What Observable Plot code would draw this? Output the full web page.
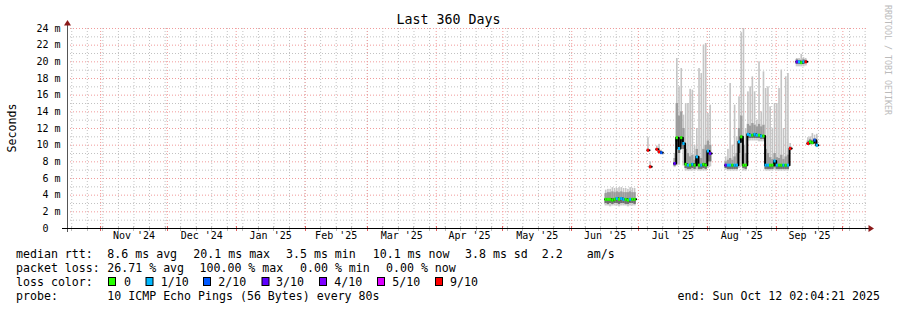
<!DOCTYPE html>
<html><head><meta charset="utf-8">
<script src="https://cdn.jsdelivr.net/npm/d3@7"></script>
<script src="https://cdn.jsdelivr.net/npm/@observablehq/plot@0.6"></script>
<style>
html,body{margin:0;padding:0;background:#fff;}
#chart{width:897px;height:310px;overflow:hidden;}
svg{display:block;}
</style></head><body><div id="chart"></div>
<script>
// ---- time window ----
const startTime = "2024-10-17T02:04:21Z";
const endTime = "2025-10-12T02:04:21Z";

// ---- daily samples (median rtt in ms, lost pings out of 10, smoke bounds in ms) ----
const days = [
 "2025-06-16","2025-06-17","2025-06-18","2025-06-19","2025-06-20","2025-06-21","2025-06-22","2025-06-23","2025-06-24","2025-06-25","2025-06-26","2025-06-27","2025-06-28","2025-06-29",
 "2025-07-05","2025-07-06","2025-07-09","2025-07-10","2025-07-11",
 "2025-07-17","2025-07-18","2025-07-19","2025-07-20","2025-07-21","2025-07-22","2025-07-23","2025-07-24","2025-07-25","2025-07-26","2025-07-27","2025-07-28","2025-07-29","2025-07-30","2025-07-31","2025-08-01","2025-08-02",
 "2025-08-09","2025-08-10","2025-08-11","2025-08-12","2025-08-13","2025-08-14","2025-08-15","2025-08-16","2025-08-17","2025-08-18","2025-08-19","2025-08-20","2025-08-21","2025-08-22","2025-08-23","2025-08-24","2025-08-25","2025-08-26","2025-08-27","2025-08-28","2025-08-29","2025-08-30","2025-08-31","2025-09-01","2025-09-02","2025-09-03","2025-09-04","2025-09-05","2025-09-06","2025-09-07",
 "2025-09-10","2025-09-11","2025-09-12","2025-09-13","2025-09-14",
 "2025-09-15","2025-09-16","2025-09-17","2025-09-18","2025-09-19"
];
const segment = [
 1,1,1,1,1,1,1,1,1,1,1,1,1,1,
 2,3,4,5,5,
 6,6,6,6,6,6,6,6,6,6,6,6,6,6,6,6,6,
 7,7,7,7,7,7,7,7,7,7,7,7,7,7,7,7,7,7,7,7,7,7,7,7,7,7,7,7,7,7,
 8,8,8,8,8,
 9,9,9,9,9
];
const median = [
 3.5,3.5,3.5,3.4,3.5,3.6,3.5,3.6,3.5,3.5,3.4,3.5,3.5,3.5,
 9.4,7.4,9.5,9.2,9.1,
 7.8,10.9,9.6,10.9,10.2,7.7,7.6,7.6,7.7,7.6,8.6,7.6,7.6,7.7,7.6,9.3,9.0,
 7.6,7.6,7.6,7.6,7.6,7.6,10.4,11.0,7.6,7.6,11.3,11.2,11.2,11.3,11.2,11.2,11.1,11.1,7.6,7.6,7.6,7.6,8.1,7.6,7.6,7.6,7.6,7.6,7.6,9.6,
 20.0,20.0,19.9,20.0,20.0,
 10.2,10.4,10.3,10.6,10.0
];
const loss = [
 0,0,0,0,0,1,0,1,1,0,0,1,0,0,
 9,9,9,9,2,
 3,0,1,0,1,0,1,0,1,0,1,0,1,0,0,1,3,
 3,1,1,0,1,1,1,0,0,0,1,1,0,1,1,0,1,0,1,1,0,0,1,1,0,0,1,0,1,9,
 3,1,0,1,9,
 9,0,0,2,1
];
const smokeMin = [
 2.7,2.7,2.6,2.7,2.7,2.7,2.6,2.7,2.7,2.7,2.6,2.7,2.7,2.7,
 9.3,7.2,9.4,9.0,9.0,
 7.3,7.5,7.6,9.8,7.5,6.9,6.9,6.9,6.9,6.9,7.0,6.9,6.9,6.9,6.9,7.2,7.4,
 7.0,6.9,6.9,6.9,6.9,6.9,7.2,7.4,6.9,6.9,10.5,10.5,10.5,10.5,10.5,10.4,10.4,10.4,6.9,6.9,6.9,6.9,7.0,6.9,6.9,6.9,6.9,6.9,6.9,9.3,
 19.4,19.4,19.4,19.4,19.5,
 10.0,10.0,10.0,10.1,9.7
];
const smokeLo = [
 3.0,2.9,3.0,2.9,3.0,3.0,2.9,3.0,3.0,2.9,2.9,3.0,3.0,2.9,
 9.4,7.4,9.5,9.2,9.1,
 7.5,10.4,9.0,10.4,9.5,7.2,7.1,7.1,7.2,7.1,7.4,7.1,7.1,7.2,7.1,8.0,8.0,
 7.2,7.1,7.1,7.1,7.1,7.1,9.0,10.2,7.2,7.1,10.8,10.8,10.8,10.8,10.8,10.8,10.7,10.7,7.1,7.1,7.1,7.1,7.3,7.1,7.1,7.1,7.1,7.1,7.1,9.4,
 19.7,19.7,19.7,19.7,19.8,
 10.1,10.2,10.1,10.3,9.9
];
const smokeHi = [
 4.2,4.3,4.3,4.4,4.3,4.4,4.3,4.4,4.3,4.3,4.3,4.4,4.3,4.3,
 9.4,7.4,9.5,9.2,9.1,
 8.4,15.0,13.5,14.0,12.0,9.5,9.0,8.6,8.8,8.2,9.5,8.6,8.4,9.5,10.0,10.5,10.0,
 8.0,8.2,8.4,8.2,8.6,9.0,12.0,13.5,10.0,9.0,12.5,12.3,12.6,12.4,12.2,12.5,12.2,12.4,9.5,9.0,8.5,8.3,9.0,8.5,8.4,8.8,8.3,8.6,8.8,9.8,
 20.3,20.2,20.2,20.3,20.2,
 10.5,10.7,10.6,10.8,10.5
];
const smokeMax = [
 4.6,4.7,4.7,4.9,4.8,4.8,4.9,4.9,4.8,4.8,4.7,4.9,4.8,4.8,
 10.9,8.0,9.9,10.1,9.4,
 9.0,20.4,17.0,19.2,13.6,15.0,15.0,16.7,16.6,10.0,12.0,19.2,18.6,22.0,22.2,13.8,14.8,
 8.6,9.5,17.4,10.0,14.8,11.0,15.8,23.5,24.0,12.0,16.4,17.0,18.2,16.4,13.0,20.0,14.0,18.8,16.8,17.0,14.6,12.0,15.0,15.0,16.8,19.0,12.0,18.2,18.6,10.2,
 20.4,20.4,20.9,20.5,20.4,
 10.9,11.0,11.4,11.2,11.3
];

// ---- axis ticks & legend text ----
const yTicks = [0,2,4,6,8,10,12,14,16,18,20,22,24];
const yMinor = [1,3,5,7,9,11,13,15,17,19,21,23];
const titleText = "Last 360 Days";
const yLabel = "Seconds";
const watermark = "RRDTOOL / TOBI OETIKER";
const lossSteps = [0,1,2,3,4,5,9];
const lossColors = ["#26ff00","#00b8ff","#0059ff","#5e00ff","#7e00ff","#dd00ff","#ff0000"];
const lossLabels = ["0","1/10","2/10","3/10","4/10","5/10","9/10"];
const rttLine = ["median rtt:","8.6 ms avg","20.1 ms max","3.5 ms min","10.1 ms now","3.8 ms sd","2.2","am/s"];
const lossLine = ["packet loss:","26.71 % avg","100.00 % max","0.00 % min","0.00 % now"];
const probeLine = ["probe:","10 ICMP Echo Pings (56 Bytes) every 80s"];
const endLine = "end: Sun Oct 12 02:04:21 2025";

// ---- build tables ----
const start = new Date(startTime), end = new Date(endTime);
const colorOf = l => lossColors[lossSteps.indexOf(l)];
const rows = days.map((d, i) => {
  const t = new Date(d + "T00:00:00Z");
  return {t, t2: d3.utcDay.offset(t, 1), seg: segment[i], med: median[i], loss: loss[i],
    min: smokeMin[i], lo: smokeLo[i], hi: smokeHi[i], max: smokeMax[i]};
});
const stepPts = [];
for (const [s, rs] of d3.groups(rows, r => r.seg)) {
  rs.forEach(r => stepPts.push({t: r.t, med: r.med, seg: s}));
  const l = rs[rs.length - 1];
  stepPts.push({t: l.t2, med: l.med, seg: s});
}
const weeks = d3.utcSaturday.range(start, end);
const months = d3.utcMonth.range(start, end);
const monthMids = months.map(m => new Date((+m + +d3.utcMonth.offset(m, 1)) / 2)).filter(d => d < end);
const fmtMonth = d3.utcFormat("%b '%y");

const chart = Plot.plot({
  width: 897, height: 310,
  marginLeft: 67, marginRight: 30, marginTop: 28, marginBottom: 82,
  x: {type: "utc", domain: [start, end], axis: null},
  y: {domain: [0, 24], axis: null},
  color: {type: "identity"},
  style: {fontFamily: "'DejaVu Sans Mono', monospace", fontSize: "10px", background: "#fff", color: "#000", overflow: "visible"},
  marks: [
    Plot.ruleX(weeks, {stroke: "#c2c2c2", strokeDasharray: "1,2"}),
    Plot.ruleY(yMinor, {stroke: "#c2c2c2", strokeDasharray: "1,2"}),
    Plot.ruleX(months, {stroke: "#f19a9a", strokeDasharray: "1,2"}),
    Plot.ruleY(yTicks.filter(d => d > 0), {stroke: "#f19a9a", strokeDasharray: "1,2"}),
    Plot.rect(rows, {x1: "t", x2: "t2", y1: "min", y2: "hi", fill: "#cbcbcb"}),
    Plot.rect(rows, {x1: "t", x2: "t2", y1: "hi", y2: "max", fill: "#c4c4c4", insetLeft: 0.3, insetRight: 0.3}),
    Plot.rect(rows, {x1: "t", x2: "t2", y1: "lo", y2: "hi", fill: "#9c9c9c"}),
    Plot.rect(rows, {x1: "t", x2: "t2", y1: "lo", y2: "med", fill: "#6e6e6e"}),
    Plot.line(stepPts, {x: "t", y: "med", z: "seg", curve: "step-after", stroke: "#000", strokeWidth: 2}),
    Plot.ruleY(rows, {x1: "t", x2: "t2", y: "med", stroke: d => colorOf(d.loss), strokeWidth: 3}),
    Plot.text(yTicks, {y: d => d, frameAnchor: "left", dx: -7, textAnchor: "end",
      text: d => d === 0 ? "0\u00a0\u00a0" : d + " m", fill: "#000"}),
    Plot.text(monthMids, {x: d => d, frameAnchor: "bottom", dy: 10, text: d => fmtMonth(d), fill: "#000"})
  ]
});
document.getElementById("chart").appendChild(chart);

// ---- axes, arrows, titles, legend ----
const sx = chart.scale("x"), sy = chart.scale("y");
const X = v => (sx.apply ? sx.apply(v) : d3.scaleUtc(sx.domain, sx.range)(v));
const Y = v => (sy.apply ? sy.apply(v) : d3.scaleLinear(sy.domain, sy.range)(v));
const xL = Math.round(X(start)), xR = Math.round(X(end)), yB = Math.round(Y(0)), yT = Math.round(Y(24));
const svg = d3.select(chart);
const g = svg.append("g").attr("font-family", "'DejaVu Sans Mono', monospace");

// x-axis ticks
g.selectAll("line.wk").data(weeks).join("line")
  .attr("x1", d => Math.round(X(d)) + 0.5).attr("x2", d => Math.round(X(d)) + 0.5)
  .attr("y1", yB - 2).attr("y2", yB + 3).attr("stroke", "#bdbdbd");
g.selectAll("line.mo").data(months).join("line")
  .attr("x1", d => Math.round(X(d)) + 0.5).attr("x2", d => Math.round(X(d)) + 0.5)
  .attr("y1", yB - 2).attr("y2", yB + 3).attr("stroke", "#e06060");
// axis lines
g.append("line").attr("x1", xL + 0.5).attr("x2", xL + 0.5).attr("y1", yB + 4).attr("y2", yT - 3)
  .attr("stroke", "#555");
g.append("line").attr("x1", xL - 5).attr("x2", xR + 2).attr("y1", yB + 0.5).attr("y2", yB + 0.5)
  .attr("stroke", "#000");
g.append("path").attr("d", `M${xL - 3},${yT - 2.5}L${xL + 4},${yT - 2.5}L${xL + 0.5},${yT - 8}Z`).attr("fill", "#8b1a1a");
g.append("path").attr("d", `M${xR + 1.5},${yB - 3}L${xR + 1.5},${yB + 4}L${xR + 7},${yB + 0.5}Z`).attr("fill", "#8b1a1a");

// title, y label, watermark
g.append("text").attr("x", 448.5).attr("y", 23.5).attr("text-anchor", "middle")
  .attr("font-size", "13.3px").attr("fill", "#000").text(titleText);
g.append("text").attr("transform", `translate(15.5,${(yB + yT) / 2}) rotate(-90)`).attr("text-anchor", "middle")
  .attr("font-size", "11.6px").attr("fill", "#000").text(yLabel);
g.append("text").attr("transform", "translate(885,5) rotate(90)").attr("text-anchor", "start")
  .attr("font-size", "8.3px").attr("fill", "#bbbbbb").text(watermark);

// legend
const lg = g.append("g").attr("font-size", "11.6px").attr("fill", "#000");
const put = (x, y, s, anchor = "start") => lg.append("text").attr("x", x).attr("y", y).attr("text-anchor", anchor).text(s);
const rttX = [16, 107.3, 193.3, 286, 372.7, 465, 541.7, 586.7];
rttLine.forEach((s, i) => put(rttX[i], 257.5, s));
const lossX = [16, 107.3, 199.5, 300, 386];
lossLine.forEach((s, i) => put(lossX[i], 271.5, s));
put(16, 285.5, "loss color:");
const boxX = [108.5, 146, 203.5, 262, 319.5, 377.5, 435.5];
const labX = [124, 160.7, 218.3, 276, 334.3, 392.3, 450];
lossSteps.forEach((l, i) => {
  lg.append("rect").attr("x", boxX[i]).attr("y", 277.5).attr("width", 7).attr("height", 8)
    .attr("fill", lossColors[i]).attr("stroke", "#000").attr("stroke-width", 1);
  put(labX[i], 285.5, lossLabels[i]);
});
put(16, 299.5, probeLine[0]);
put(107.3, 299.5, probeLine[1]);
put(880, 299.5, endLine, "end");
</script>
</body></html>
